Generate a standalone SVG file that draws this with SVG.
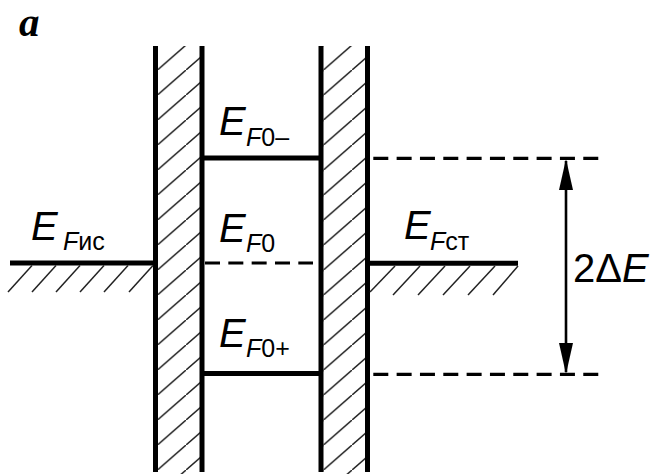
<svg xmlns="http://www.w3.org/2000/svg" width="654" height="474" viewBox="0 0 654 474">
<style>
.wall{stroke:#000;stroke-width:5;fill:none}
.lvl{stroke:#000;stroke-width:5;fill:none}
.dash{stroke:#000;stroke-width:3.2;stroke-dasharray:15 8.33;fill:none}
.hatch{stroke:#222;stroke-width:1.5;fill:none}
.lbl{font-family:"Liberation Sans",Arial,sans-serif;font-size:40px;fill:#000}
.sub{font-size:25px}
.it{font-style:italic}
</style>
<defs>
<pattern id="hp" patternUnits="userSpaceOnUse" x="157.5" y="45" width="28.57" height="25">
<line x1="-28.57" y1="50" x2="57.14" y2="-25" stroke="#222" stroke-width="1.5"/>
</pattern>
<marker id="ah" viewBox="0 0 31 14" refX="29" refY="7" markerWidth="31" markerHeight="14" markerUnits="userSpaceOnUse" orient="auto-start-reverse">
<path d="M0,0 L31,7 L0,14 z" fill="#000"/>
</marker>
</defs>
<rect width="654" height="474" fill="#fff"/>
<text x="19" y="36" style="font-family:'Liberation Serif','Times New Roman',serif;font-weight:bold;font-style:italic;font-size:41px">a</text>

<g id="barrier-left">
<rect x="157" y="46" width="43" height="428" fill="url(#hp)"/>
<line class="wall" x1="155.5" y1="46" x2="155.5" y2="472"/>
<line class="wall" x1="202" y1="46" x2="202" y2="472"/>
</g>
<g id="barrier-right">
<rect x="157" y="46" width="43" height="428" fill="url(#hp)" transform="translate(166,0)"/>
<line class="wall" x1="321" y1="46" x2="321" y2="472"/>
<line class="wall" x1="367.5" y1="46" x2="367.5" y2="472"/>
</g>

<g id="level-left">
<line class="lvl" x1="10" y1="263" x2="155" y2="263"/>
<line class="hatch" x1="8" y1="292" x2="32" y2="265.5"/>
<line class="hatch" x1="32" y1="292" x2="56" y2="265.5"/>
<line class="hatch" x1="56" y1="292" x2="80" y2="265.5"/>
<line class="hatch" x1="80" y1="292" x2="104" y2="265.5"/>
<line class="hatch" x1="104" y1="292" x2="128" y2="265.5"/>
<line class="hatch" x1="129" y1="292" x2="153" y2="265.5"/>
<text class="lbl" x="31" y="240"><tspan class="it">E</tspan></text>
<text class="lbl sub" x="63" y="250"><tspan class="it">F</tspan>ис</text>
</g>

<g id="level-right">
<line class="lvl" x1="368" y1="263.3" x2="518" y2="263.3"/>
<line class="hatch" x1="370" y1="292" x2="395" y2="266"/>
<line class="hatch" x1="393" y1="295" x2="420" y2="266"/>
<line class="hatch" x1="418" y1="295" x2="445" y2="266"/>
<line class="hatch" x1="443" y1="295" x2="470" y2="266"/>
<line class="hatch" x1="468" y1="295" x2="495" y2="266"/>
<line class="hatch" x1="493" y1="295" x2="518" y2="266"/>
<text class="lbl" x="404" y="239"><tspan class="it">E</tspan></text>
<text class="lbl sub" x="430" y="250"><tspan class="it">F</tspan>ст</text>
</g>

<g id="level-f0-minus">
<line class="lvl" x1="202" y1="158" x2="321" y2="158"/>
<text class="lbl" x="219" y="135"><tspan class="it">E</tspan></text>
<text class="lbl sub" x="246" y="146"><tspan class="it">F</tspan>0–</text>
</g>

<g id="level-f0">
<line class="dash" x1="205" y1="263" x2="313" y2="263"/>
<text class="lbl" x="219" y="242"><tspan class="it">E</tspan></text>
<text class="lbl sub" x="246" y="252"><tspan class="it">F</tspan>0</text>
</g>

<g id="level-f0-plus">
<line class="lvl" x1="202" y1="373.5" x2="321" y2="373.5"/>
<text class="lbl" x="219" y="347"><tspan class="it">E</tspan></text>
<text class="lbl sub" x="246" y="357"><tspan class="it">F</tspan>0+</text>
</g>

<g id="ref-top">
<line class="dash" x1="373.3" y1="158.3" x2="600" y2="158.3"/>
</g>
<g id="ref-bottom">
<line class="dash" x1="373.3" y1="374.3" x2="600" y2="374.3"/>
</g>

<g id="connectors">
<line x1="566" y1="161" x2="566" y2="372" stroke="#000" stroke-width="2.6" marker-start="url(#ah)" marker-end="url(#ah)"/>
</g>
<g id="label-2dE">
<text class="lbl" x="573" y="282">2Δ<tspan class="it">E</tspan></text>
</g>
</svg>
